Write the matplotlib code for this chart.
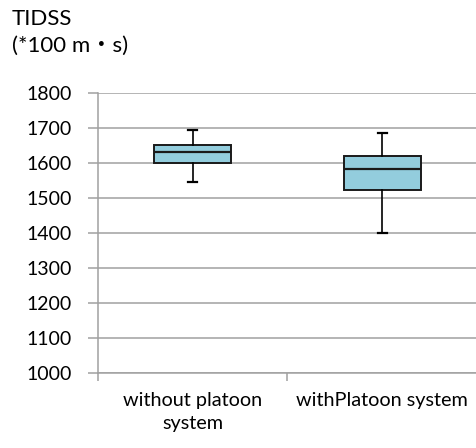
import matplotlib
matplotlib.use("Agg")
import matplotlib.pyplot as plt

# box statistics (TIDSS, *100 m·s)
categories = ["without platoon\nsystem", "withPlatoon system"]
whisker_low = [1547, 1400]
q1 = [1600, 1522]
median = [1631, 1582]
q3 = [1652, 1621]
whisker_high = [1696, 1686]

y_ticks = [1000, 1100, 1200, 1300, 1400, 1500, 1600, 1700, 1800]

plt.rcParams['font.family'] = ['Lato', 'Noto Sans CJK JP', 'DejaVu Sans']

stats = []
for i, name in enumerate(categories):
    stats.append({'label': name, 'whislo': whisker_low[i], 'q1': q1[i],
                  'med': median[i], 'q3': q3[i], 'whishi': whisker_high[i]})

fig = plt.figure(figsize=(4.77, 4.48), dpi=100)
ax = fig.add_axes([98 / 477, 1 - 372.7 / 448, 1 - 98 / 477, (372.7 - 93.3) / 448])

grid_c = '#a0a0a0'
positions = [0.5, 1.5]
ax.bxp(stats, positions=positions, widths=0.406, capwidths=0.045,
       showfliers=False, patch_artist=True,
       boxprops=dict(facecolor='#93CDDD', edgecolor='#1a1a1a', linewidth=1.4),
       medianprops=dict(color='#1a1a1a', linewidth=1.6),
       whiskerprops=dict(color='black', linewidth=1.2),
       capprops=dict(color='black', linewidth=1.6))

ax.set_xlim(0, 2)
ax.set_ylim(1000, 1800)
ax.set_yticks(y_ticks)
ax.yaxis.grid(True, color=grid_c, linewidth=1.1)
ax.set_axisbelow(True)

ax.set_xticks([0, 1, 2])
ax.set_xticklabels([])
ax.set_xticks(positions, minor=True)
ax.set_xticklabels(categories, minor=True, fontsize=14.3, linespacing=1.45)
ax.tick_params(axis='x', which='minor', length=0, pad=14)
ax.tick_params(axis='x', which='major', length=6, color=grid_c, width=1.1)
ax.tick_params(axis='y', length=7, color=grid_c, width=1.1, labelsize=14, pad=12)

for side in ['top', 'right']:
    ax.spines[side].set_visible(False)
for side in ['left', 'bottom']:
    ax.spines[side].set_color(grid_c)
    ax.spines[side].set_linewidth(1.1)

fig.text(12 / 477, 1 - 9 / 448, "TIDSS\n(*100 m・s)", fontsize=16,
         va='top', ha='left', linespacing=1.45)

fig.savefig("out.png", dpi=100)
